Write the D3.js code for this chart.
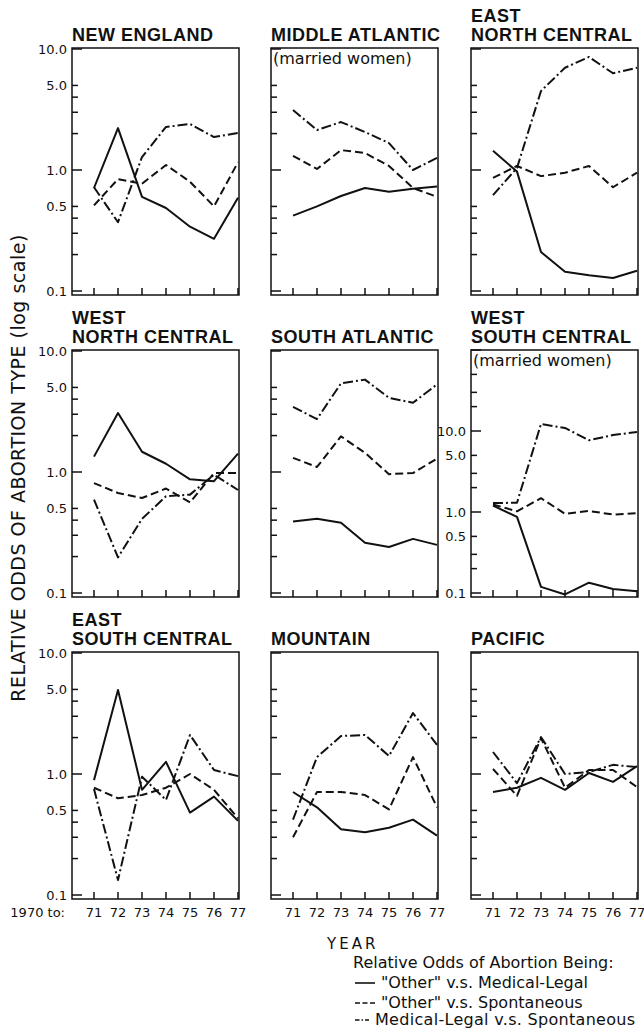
<!DOCTYPE html>
<html>
<head>
<meta charset="utf-8">
<script src="https://cdn.jsdelivr.net/npm/d3@7"></script>
<style>
  body { margin: 0; background: #fff; }
  svg { display: block; }
  text { fill: #111; }
</style>
</head>
<body>
<div id="chart"></div>
<script>
// Years on the x axis (1970 to ...)
const years = [71, 72, 73, 74, 75, 76, 77];

// Census regions, title lines as printed
const regionTitles = [
    ["NEW ENGLAND"],
    ["MIDDLE ATLANTIC"],
    ["EAST", "NORTH CENTRAL"],
    ["WEST", "NORTH CENTRAL"],
    ["SOUTH ATLANTIC"],
    ["WEST", "SOUTH CENTRAL"],
    ["EAST", "SOUTH CENTRAL"],
    ["MOUNTAIN"],
    ["PACIFIC"]
];
const marriedOnly = [false, true, false, false, false, true, false, false, false];

// "Other" v.s. Medical-Legal (solid)
const otherVsMedLegal = [
    [0.71, 2.22, 0.60, 0.485, 0.34, 0.27, 0.59],
    [0.42, 0.50, 0.61, 0.71, 0.66, 0.70, 0.73],
    [1.44, 0.97, 0.21, 0.144, 0.135, 0.128, 0.147],
    [1.34, 3.07, 1.47, 1.17, 0.87, 0.84, 1.42],
    [0.39, 0.41, 0.38, 0.26, 0.24, 0.28, 0.25],
    [1.20, 0.87, 0.119, 0.096, 0.134, 0.112, 0.105],
    [0.89, 4.94, 0.74, 1.26, 0.48, 0.65, 0.41],
    [0.71, 0.53, 0.35, 0.33, 0.36, 0.42, 0.31],
    [0.71, 0.77, 0.93, 0.74, 1.02, 0.86, 1.16]
];

// "Other" v.s. Spontaneous (dashed)
const otherVsSpont = [
    [0.51, 0.84, 0.77, 1.10, 0.80, 0.50, 1.16],
    [1.31, 1.02, 1.46, 1.38, 1.08, 0.71, 0.60],
    [0.86, 1.08, 0.89, 0.95, 1.08, 0.72, 0.95],
    [0.81, 0.67, 0.61, 0.73, 0.56, 0.98, 0.98],
    [1.31, 1.10, 1.97, 1.44, 0.96, 0.98, 1.29],
    [1.24, 1.02, 1.48, 0.95, 1.03, 0.93, 0.97],
    [0.77, 0.63, 0.67, 0.77, 1.00, 0.74, 0.43],
    [0.30, 0.71, 0.71, 0.67, 0.51, 1.38, 0.53],
    [1.10, 0.66, 1.98, 0.77, 1.08, 1.08, 0.78]
];

// Medical-Legal v.s. Spontaneous (dash-dot)
const medLegalVsSpont = [
    [0.72, 0.37, 1.28, 2.27, 2.40, 1.87, 2.02],
    [3.13, 2.14, 2.49, 2.06, 1.67, 1.00, 1.26],
    [0.62, 1.04, 4.5, 7.0, 8.6, 6.3, 7.0],
    [0.59, 0.197, 0.41, 0.63, 0.65, 0.95, 0.71],
    [3.45, 2.74, 5.4, 5.8, 4.1, 3.73, 5.3],
    [1.29, 1.30, 12.2, 10.9, 7.7, 8.9, 9.7],
    [0.75, 0.133, 0.95, 0.61, 2.1, 1.08, 0.96],
    [0.42, 1.38, 2.06, 2.10, 1.41, 3.19, 1.74],
    [1.52, 0.84, 2.02, 1.00, 1.04, 1.19, 1.14]
];

// Log axis ticks
const tickValues = [10, 5, 4, 3, 2, 1, 0.5, 0.4, 0.3, 0.2, 0.1];
const wideTickValues = [100, 50, 30, 20, 10, 5, 3, 2, 1, 0.5, 0.3, 0.2, 0.1];
const majorTicks = [100, 10, 1, 0.1];
const labelValues = [10, 5, 1, 0.5, 0.1];

const legendLabels = [
    '"Other" v.s. Medical-Legal',
    '"Other" v.s. Spontaneous',
    'Medical-Legal v.s. Spontaneous'
];

const series = [otherVsMedLegal, otherVsSpont, medLegalVsSpont];
const dashes = [null, '8,4', '10,3,2,3'];

// Layout
const width = 644, height = 1032;
const colX = [72, 271, 471];
const rowY = [48, 350, 652];
const pw = 167, ph = 247;

const svg = d3.select('#chart')
    .append('svg')
    .attr('width', width)
    .attr('height', height);

svg.append('rect').attr('width', width).attr('height', height).attr('fill', '#fff');

const x = d3.scaleLinear().domain([71, 77]).range([22, 166]);

regionTitles.forEach((title, i) => {
    const col = i % 3, row = Math.floor(i / 3);
    const wide = i === 5; // West South Central uses its own scale
    const y = d3.scaleLog()
        .domain(wide ? [0.1, 100] : [0.1, 10])
        .range([243, wide ? 0 : 1]);

    const g = svg.append('g')
        .attr('transform', `translate(${colX[col]},${rowY[row]})`);

    // Title
    title.forEach((t, k) => {
        g.append('text')
            .attr('x', 0)
            .attr('y', -7 - (title.length - 1 - k) * 19)
            .attr('font-family', 'Liberation Sans, Arial, sans-serif')
            .attr('font-weight', 'bold')
            .attr('font-size', 18)
            .attr('letter-spacing', 0.5)
            .text(t);
    });

    // Box
    g.append('rect')
        .attr('width', pw)
        .attr('height', ph)
        .attr('fill', 'none')
        .attr('stroke', '#111')
        .attr('stroke-width', 1.5);

    if (marriedOnly[i]) {
        g.append('text')
            .attr('x', 2)
            .attr('y', 16)
            .attr('font-family', 'DejaVu Sans, sans-serif')
            .attr('font-size', 16)
            .text('(married women)');
    }

    // Y ticks, drawn inward
    (wide ? wideTickValues : tickValues).forEach(v => {
        const len = majorTicks.includes(v) ? 10 : 6;
        g.append('line')
            .attr('x1', 0).attr('x2', len)
            .attr('y1', y(v)).attr('y2', y(v))
            .attr('stroke', '#111')
            .attr('stroke-width', 1.5);
    });

    if (col === 0 || wide) {
        g.selectAll('.ylab')
            .data(labelValues)
            .enter()
            .append('text')
            .attr('x', -5)
            .attr('y', d => y(d))
            .attr('dy', '0.36em')
            .attr('text-anchor', 'end')
            .attr('font-family', 'DejaVu Sans, sans-serif')
            .attr('font-size', 13)
            .text(d => d3.format('.1f')(d));
    }

    // X ticks, drawn upward from the bottom
    g.selectAll('.xtick')
        .data(years)
        .enter()
        .append('line')
        .attr('x1', d => x(d)).attr('x2', d => x(d))
        .attr('y1', ph).attr('y2', ph - 7)
        .attr('stroke', '#111')
        .attr('stroke-width', 1.5);

    if (row === 2) {
        g.selectAll('.xlab')
            .data(years)
            .enter()
            .append('text')
            .attr('x', d => x(d))
            .attr('y', ph + 18)
            .attr('text-anchor', 'middle')
            .attr('font-family', 'DejaVu Sans, sans-serif')
            .attr('font-size', 13)
            .text(d => d);
        if (col === 0) {
            g.append('text')
                .attr('x', -7)
                .attr('y', ph + 18)
                .attr('text-anchor', 'end')
                .attr('font-family', 'DejaVu Sans, sans-serif')
                .attr('font-size', 13)
                .text('1970 to:');
        }
    }

    // Series lines
    const line = d3.line()
        .x((d, j) => x(years[j]))
        .y(d => y(d));

    series.forEach((s, k) => {
        g.append('path')
            .datum(s[i])
            .attr('d', line)
            .attr('fill', 'none')
            .attr('stroke', '#111')
            .attr('stroke-width', 2)
            .attr('stroke-linejoin', 'round')
            .attr('stroke-dasharray', dashes[k]);
    });
});

// Y axis title
svg.append('text')
    .attr('transform', 'translate(25,468) rotate(-90)')
    .attr('text-anchor', 'middle')
    .attr('font-family', 'DejaVu Sans, sans-serif')
    .attr('font-size', 19)
    .attr('letter-spacing', 0.5)
    .text('RELATIVE ODDS OF ABORTION TYPE (log scale)');

// X axis title
svg.append('text')
    .attr('x', 327)
    .attr('y', 949)
    .attr('font-family', 'DejaVu Sans, sans-serif')
    .attr('font-size', 15)
    .attr('letter-spacing', 3)
    .text('YEAR');

// Legend
const legend = svg.append('g');
legend.append('text')
    .attr('x', 353)
    .attr('y', 968)
    .attr('font-family', 'DejaVu Sans, sans-serif')
    .attr('font-size', 16)
    .text('Relative Odds of Abortion Being:');

const legendY = [983, 1003, 1020];
const legendLen = [20, 20, 14];
const legendDash = [null, '5,2.5', '4.5,2,1.5,2'];
legendLabels.forEach((lab, k) => {
    legend.append('line')
        .attr('x1', 355).attr('x2', 355 + legendLen[k])
        .attr('y1', legendY[k]).attr('y2', legendY[k])
        .attr('stroke', '#111')
        .attr('stroke-width', 1.6)
        .attr('stroke-dasharray', legendDash[k]);
    legend.append('text')
        .attr('x', 355 + legendLen[k] + 6)
        .attr('y', legendY[k] + 5)
        .attr('font-family', 'DejaVu Sans, sans-serif')
        .attr('font-size', 16)
        .attr('letter-spacing', k === 2 ? 0.3 : 0)
        .text(lab);
});
</script>
</body>
</html>
